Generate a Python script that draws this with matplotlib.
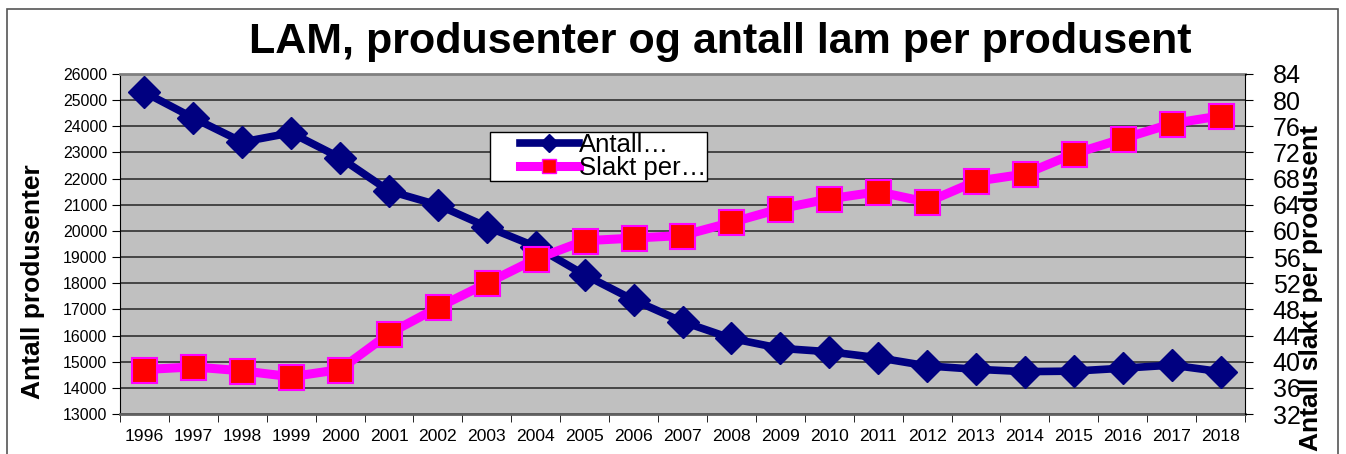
import matplotlib
matplotlib.use("Agg")
import matplotlib.pyplot as plt
from matplotlib.patches import Rectangle
from matplotlib.lines import Line2D
from matplotlib.legend_handler import HandlerLine2D

years = list(range(1996, 2019))
produsenter = [25300, 24320, 23400, 23750, 22800, 21530, 20990, 20160, 19400, 18320,
               17360, 16530, 15890, 15510, 15380, 15150, 14840, 14710, 14620, 14640,
               14750, 14870, 14620]
slakt_per = [38.8, 39.2, 38.6, 37.7, 38.8, 44.3, 48.3, 52.0, 55.7, 58.5,
             58.9, 59.3, 61.3, 63.4, 64.9, 66.0, 64.4, 67.6, 68.7, 71.8,
             74.1, 76.4, 77.6]
left_ticks = list(range(13000, 26001, 1000))
right_ticks = list(range(32, 85, 4))

plt.rcParams['font.family'] = ['Liberation Sans', 'DejaVu Sans']


class GapHandler(HandlerLine2D):
    def create_artists(self, legend, orig_handle, xdescent, ydescent, width,
                       height, fontsize, trans):
        gap = width * 0.33
        return super().create_artists(legend, orig_handle, xdescent - gap, ydescent,
                                      width - gap, height, fontsize, trans)


W, H = 1346, 454
fig = plt.figure(figsize=(W / 100, H / 100), dpi=100)
fig.patch.set_facecolor('white')
fig.patches.append(Rectangle((7 / W, -0.1), (1338 - 7) / W, (H - 9) / H + 0.1,
                             transform=fig.transFigure, fill=False,
                             edgecolor='#555555', linewidth=1.2))

ax = fig.add_axes([120 / W, (H - 414) / H, 1125 / W, 340 / H])
ax.set_facecolor('#C0C0C0')
x = list(range(len(years)))
ax.set_xlim(-0.5, len(years) - 0.5)
ax.set_ylim(13000, 26000)
ax.set_yticks(left_ticks)
ax.set_yticklabels([str(v) for v in left_ticks], fontsize=11.4)
ax.set_xticks(x)
ax.set_xticklabels([str(y) for y in years], fontsize=12.6)
ax.set_xticks([i - 0.5 for i in range(len(years) + 1)], minor=True)
ax.tick_params(axis='x', which='major', length=0, pad=11)
ax.tick_params(axis='x', which='minor', length=6, direction='out', color='black')
ax.tick_params(axis='y', length=6, direction='out', pad=3)
ax.grid(axis='y', color='#303030', linewidth=1.2)
ax.set_axisbelow(True)
ax.spines['top'].set_color('#808080')
ax.spines['top'].set_linewidth(2)
ax.spines['left'].set_color('black')
ax.spines['bottom'].set_color('#606060')
ax.spines['bottom'].set_linewidth(2)
ax.spines['right'].set_visible(False)

ax.plot(x, produsenter, color='#000080', linewidth=5.5, marker='D',
        markersize=16, markerfacecolor='#000080', markeredgecolor='#000080',
        zorder=3)

ax2 = ax.twinx()
ax2.set_ylim(32, 84)
ax2.set_yticks(right_ticks)
ax2.set_yticklabels([str(v) for v in right_ticks], fontsize=18)
ax2.tick_params(axis='y', length=6, direction='out', pad=14)
for s in ['top', 'left', 'bottom']:
    ax2.spines[s].set_visible(False)
ax2.spines['right'].set_color('black')
ax2.plot(x, slakt_per, color='#FF00FF', linewidth=6.5, marker='s',
         markersize=18, markerfacecolor='#FF0000', markeredgecolor='#FF00FF',
         markeredgewidth=1.5, zorder=3)

fig.text(33 / W, (H - 282) / H, 'Antall produsenter', rotation=90,
         ha='center', va='center', fontsize=19, fontweight='bold')
fig.text(1311 / W, (H - 288) / H, 'Antall slakt per produsent', rotation=90,
         ha='center', va='center', fontsize=19, fontweight='bold')

h1 = Line2D([], [], color='#000080', linewidth=5.5, marker='D', markersize=9,
            markerfacecolor='#000080', markeredgecolor='#000080')
h2 = Line2D([], [], color='#FF00FF', linewidth=6.5, marker='s', markersize=10,
            markerfacecolor='#FF0000', markeredgecolor='#FF00FF')
leg = ax2.legend([h1, h2], ['Antall…', 'Slakt per…'],
                 handler_map={h1: GapHandler(), h2: GapHandler()},
                 loc='upper left',
                 bbox_to_anchor=((490 - 120) / 1125, (414 - 132) / 340),
                 fontsize=18.5, frameon=True, fancybox=False, framealpha=1,
                 edgecolor='black', handlelength=3.4, handletextpad=0.0,
                 borderpad=0.05, labelspacing=-0.05, borderaxespad=0)
leg.get_frame().set_linewidth(1)

fig.text(720 / W, (H - 42) / H, 'LAM, produsenter og antall lam per produsent',
         ha='center', va='center', fontsize=31, fontweight='bold')

fig.savefig('out.png', dpi=100)
